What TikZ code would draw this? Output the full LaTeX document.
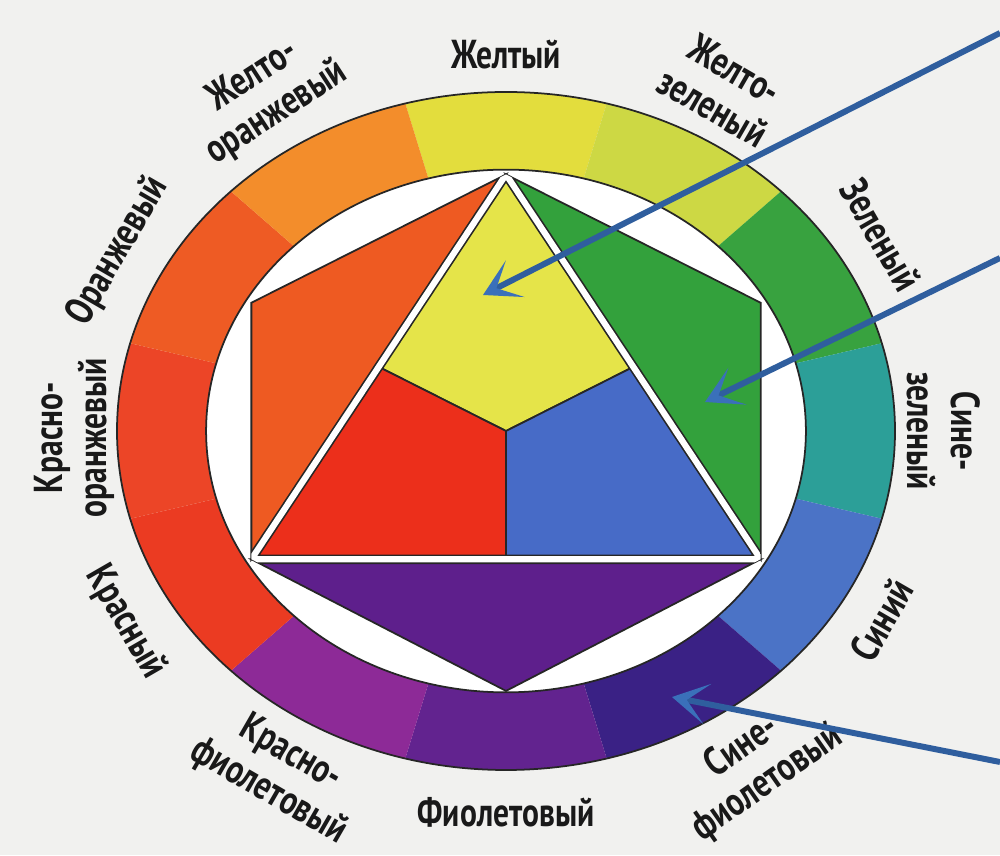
\documentclass[tikz,border=0pt]{standalone}
\usepackage{fontspec}
\newfontfamily\lblfont[FakeStretch=0.78]{PT Sans}
\usetikzlibrary{arrows.meta}
% paper and arrows
\definecolor{bgpaper}{HTML}{F1F1EF}
\definecolor{arrowblue}{HTML}{2F5E9E}
\definecolor{arrowhead}{HTML}{3A70BA}
% ring colours
\definecolor{ryel}{HTML}{E3DD3D}
\definecolor{ryelgr}{HTML}{CDD844}
\definecolor{rgreen}{HTML}{38A23F}
\definecolor{rbluegr}{HTML}{2C9F98}
\definecolor{rblue}{HTML}{4B73C6}
\definecolor{rblueviol}{HTML}{3A2185}
\definecolor{rviol}{HTML}{62238F}
\definecolor{rredviol}{HTML}{8D2A97}
\definecolor{rred}{HTML}{EB3B22}
\definecolor{rredor}{HTML}{EC4527}
\definecolor{ror}{HTML}{EE5B24}
\definecolor{ryelor}{HTML}{F38D2B}
% inner colours
\definecolor{iyellow}{HTML}{E5E449}
\definecolor{ired}{HTML}{EC2F1B}
\definecolor{iblue}{HTML}{476BC7}
\definecolor{iorange}{HTML}{EE5A22}
\definecolor{igreen}{HTML}{33A13C}
\definecolor{ipurple}{HTML}{5E1F8C}
\begin{document}
\begin{tikzpicture}[x=0.02cm, y=0.02cm,
  lbl/.style={font=\lblfont\bfseries\fontsize{23}{25}\selectfont, text=black!90, align=center, inner sep=0pt},
  edge/.style={draw=black!85, line width=1pt},
  pointer/.style={draw=arrowblue, line width=3.4pt,
    -{Stealth[length=0.72cm, width=0.82cm, inset=0.42cm, color=arrowhead]}}]
  \useasboundingbox (0,0) rectangle (1000,855);
  \fill[bgpaper] (0,0) rectangle (1000,855);
  \begin{scope}[shift={(506,424)}, xscale=389, yscale=339]
    % Ring of twelve colours
    \foreach \a/\c in {90/ryel, 60/ryelgr, 30/rgreen, 0/rbluegr, -30/rblue, -60/rblueviol,
                       -90/rviol, -120/rredviol, -150/rred, 180/rredor, 150/ror, 120/ryelor} {
      \fill[\c] ({\a-15}:1) arc[start angle=\a-15, end angle=\a+15, radius=1]
        -- ({\a+15}:0.771) arc[start angle=\a+15, end angle=\a-15, radius=0.771] -- cycle;
    }
    \fill[white] (0,0) circle (0.771);
    \draw[edge] (0,0) circle (1);
    \draw[edge] (0,0) circle (0.771);
    % Hexagon corners
    \coordinate (yv) at (90:0.758);
    \coordinate (gv) at (30:0.758);
    \coordinate (bv) at (-30:0.758);
    \coordinate (pv) at (-90:0.768);
    \coordinate (rv) at (-150:0.758);
    \coordinate (ov) at (150:0.758);
    \coordinate (ctr) at (0,0);
    \coordinate (om) at (150:0.379);
    \coordinate (pm) at (-90:0.379);
    \coordinate (gm) at (30:0.379);
    % Secondary triangles
    \filldraw[edge, fill=iorange] (yv) -- (ov) -- (rv) -- cycle;
    \filldraw[edge, fill=igreen] (yv) -- (gv) -- (bv) -- cycle;
    \filldraw[edge, fill=ipurple] (rv) -- (pv) -- (bv) -- cycle;
    % Primary triangle
    \filldraw[edge, fill=iyellow] (yv) -- (om) -- (ctr) -- (gm) -- cycle;
    \filldraw[edge, fill=ired] (om) -- (rv) -- (pm) -- (ctr) -- cycle;
    \filldraw[edge, fill=iblue] (ctr) -- (pm) -- (bv) -- (gm) -- cycle;
    \begin{scope}
      \clip (yv) -- (gv) -- (bv) -- (pv) -- (rv) -- (ov) -- cycle;
      \draw[black!85, line width=5.4pt] (yv) -- (rv) -- (bv) -- cycle;
      \draw[white, line width=3.5pt] (yv) -- (rv) -- (bv) -- cycle;
    \end{scope}
    % Names round the ring
    \foreach \a/\r/\d/\n/\t in {90/0/1.11/yellow/{Желтый},
        61/-30/1.155/yellowgreen/{Желто-\\зеленый},
        31/-60/1.125/green/{Зеленый},
        0/-90/1.125/bluegreen/{Сине-\\зеленый},
        -30/60/1.115/blue/{Синий},
        -57/35/1.175/blueviolet/{Сине-\\фиолетовый},
        -90/0/1.125/violet/{Фиолетовый},
        -120/-30/1.165/redviolet/{Красно-\\фиолетовый},
        -150/-60/1.13/red/{Красный},
        181/90/1.11/redorange/{Красно-\\оранжевый},
        152/60/1.13/orange/{Оранжевый},
        122/33/1.17/yelloworange/{Желто-\\оранжевый}} {
      \node[lbl, rotate=\r] (\n) at ({\a}:\d) {\t};
    }
  \end{scope}
  % Pointers from the right edge
  \coordinate (src1) at (1000,822);
  \coordinate (tip1) at (483,560);
  \coordinate (src2) at (1000,597);
  \coordinate (tip2) at (705,453);
  \coordinate (src3) at (1000,93);
  \coordinate (tip3) at (672,158);
  \draw[pointer] (src1) -- (tip1);
  \draw[pointer] (src2) -- (tip2);
  \draw[pointer] (src3) -- (tip3);
\end{tikzpicture}
\end{document}
